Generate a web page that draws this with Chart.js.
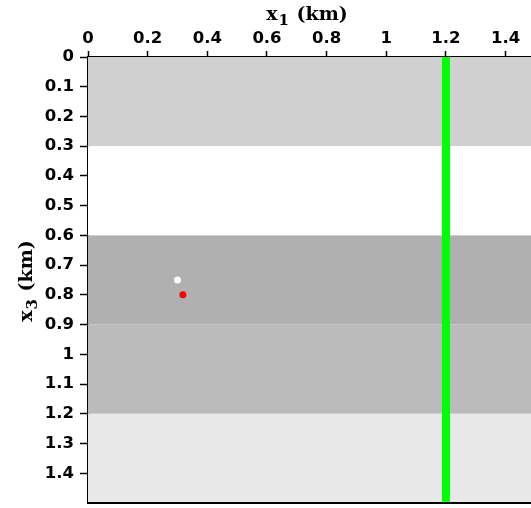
<!DOCTYPE html>
<html>
<head>
<meta charset="utf-8">
<script src="https://cdn.jsdelivr.net/npm/chart.js@4"></script>
<style>
  html, body { margin: 0; padding: 0; background: #fff; }
  canvas { display: block; }
</style>
</head>
<body>
<canvas id="chart" width="531" height="508"></canvas>
<script>
// Layer model: depth bands (km) and their grey levels
const bandTops = [0, 0.3, 0.6, 0.9, 1.2];
const bandBottoms = [0.3, 0.6, 0.9, 1.2, 1.5];
const bandColors = ['#d0d0d0', '#ffffff', '#b0b0b0', '#bbbbbb', '#e8e8e8'];

// Well position (green line)
const wellX = [1.2, 1.2];
const wellZ = [0, 1.5];

// Points
const whitePoint = { x: 0.3, y: 0.75 };
const redPoint = { x: 0.318, y: 0.8 };

// Axis ticks
const xTicks = [0, 0.2, 0.4, 0.6, 0.8, 1, 1.2, 1.4];
const zTicks = [0, 0.1, 0.2, 0.3, 0.4, 0.5, 0.6, 0.7, 0.8, 0.9, 1, 1.1, 1.2, 1.3, 1.4];

const TICK_FONT = { family: 'DejaVu Sans', size: 16.5, weight: 'bold' };
const TITLE_FONT = 'bold 19px "DejaVu Serif"';
const SUB_FONT = 'bold 15px "DejaVu Serif"';

// draw "x<sub> (km)" centred at (cx, cy), optionally rotated
function drawTitle(ctx, cx, cy, rot, sub) {
    ctx.save();
    ctx.translate(cx, cy);
    ctx.rotate(rot);
    ctx.fillStyle = '#000';
    ctx.textBaseline = 'alphabetic';
    ctx.font = TITLE_FONT;
    const wx = ctx.measureText('x').width;
    const wr = ctx.measureText(' (km)').width;
    ctx.font = SUB_FONT;
    const ws = ctx.measureText(sub).width;
    const total = wx + ws + wr + 2;
    let x = -total / 2;
    ctx.font = TITLE_FONT;
    ctx.fillText('x', x, 6);
    x += wx + 1;
    ctx.font = SUB_FONT;
    ctx.fillText(sub, x, 11);
    x += ws + 1;
    ctx.font = TITLE_FONT;
    ctx.fillText(' (km)', x, 6);
    ctx.restore();
}

// Draw bands behind datasets using the chart's scales
const bandPlugin = {
    id: 'bands',
    beforeDatasetsDraw(chart) {
        const { ctx, chartArea, scales } = chart;
        ctx.save();
        bandTops.forEach((top, i) => {
            const y0 = scales.y.getPixelForValue(top);
            const y1 = scales.y.getPixelForValue(bandBottoms[i]);
            ctx.fillStyle = bandColors[i];
            ctx.fillRect(chartArea.left, y0, chartArea.right - chartArea.left, y1 - y0);
        });
        ctx.restore();
    },
    afterDraw(chart) {
        const { ctx, chartArea } = chart;
        ctx.save();
        ctx.strokeStyle = '#000';
        ctx.lineWidth = 2;
        ctx.beginPath();
        ctx.moveTo(chartArea.left - 1, chartArea.bottom);
        ctx.lineTo(chartArea.right, chartArea.bottom);
        ctx.stroke();
        ctx.restore();
        drawTitle(ctx, 307, 14, 0, '1');
        drawTitle(ctx, 26, 281, -Math.PI / 2, '3');
    }
};

const fmt = v => String(Number(v.toFixed(2)));

new Chart(document.getElementById('chart'), {
    type: 'scatter',
    data: {
        datasets: [
            {
                type: 'line',
                data: wellX.map((x, i) => ({ x: x, y: wellZ[i] })),
                borderColor: '#00ff00',
                borderWidth: 8,
                pointRadius: 0,
                borderCapStyle: 'butt'
            },
            {
                data: [whitePoint],
                backgroundColor: '#ffffff',
                borderWidth: 0,
                pointRadius: 3.5
            },
            {
                data: [redPoint],
                backgroundColor: '#ff0000',
                borderWidth: 0,
                pointRadius: 3.5
            }
        ]
    },
    options: {
        responsive: false,
        animation: false,
        layout: { autoPadding: false, padding: { left: 0, right: 0, top: 0, bottom: 5 } },
        plugins: {
            legend: { display: false },
            tooltip: { enabled: false }
        },
        scales: {
            x: {
                type: 'linear',
                position: 'top',
                min: 0,
                max: 1.485,
                afterBuildTicks: s => { s.ticks = xTicks.map(v => ({ value: v })); },
                afterFit: s => { s.height = 57; s.paddingLeft = 0; s.paddingRight = 0; },
                grid: { drawOnChartArea: false, drawTicks: true, tickLength: 6, tickColor: '#000', tickWidth: 1.5 },
                border: { display: true, color: '#000', width: 2 },
                ticks: {
                    color: '#000',
                    padding: 2,
                    maxRotation: 0,
                    font: TICK_FONT,
                    callback: v => fmt(v)
                }
            },
            y: {
                type: 'linear',
                reverse: true,
                min: 0,
                max: 1.5,
                afterBuildTicks: s => { s.ticks = zTicks.map(v => ({ value: v })); },
                afterFit: s => { s.width = 88; s.paddingTop = 0; s.paddingBottom = 0; },
                grid: { drawOnChartArea: false, drawTicks: true, tickLength: 8, tickColor: '#000', tickWidth: 1.5 },
                border: { display: true, color: '#000', width: 2 },
                ticks: {
                    color: '#000',
                    padding: 6,
                    font: TICK_FONT,
                    callback: v => fmt(v)
                }
            }
        }
    },
    plugins: [bandPlugin]
});
</script>
</body>
</html>
